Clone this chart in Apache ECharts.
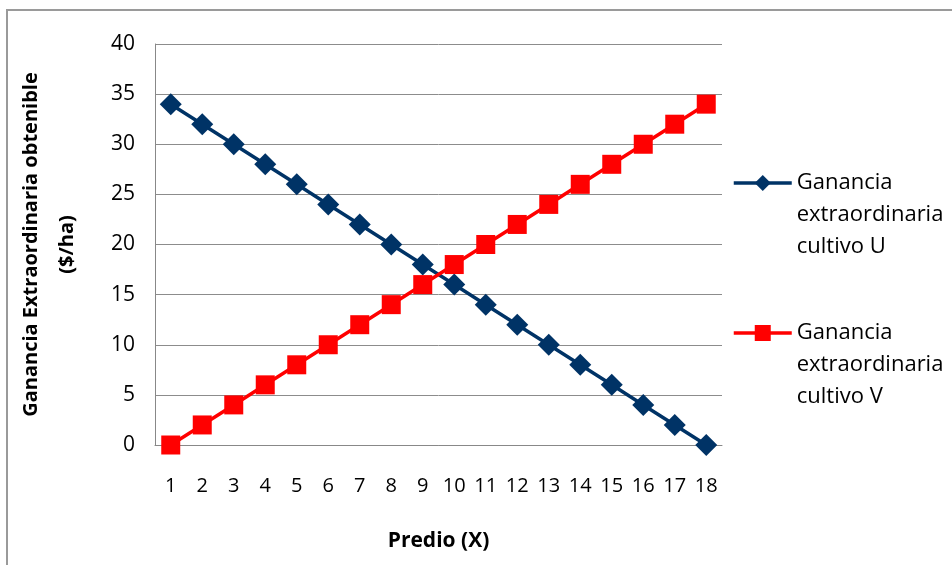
<!DOCTYPE html>
<html>
<head>
<meta charset="utf-8">
<script src="https://cdn.jsdelivr.net/npm/echarts@6/dist/echarts.min.js"></script>
<style>
  html, body { margin: 0; padding: 0; background: #fff; }
  #chart { width: 952px; height: 565px; }
</style>
</head>
<body>
<div id="chart"></div>
<script>
var predios = ['1','2','3','4','5','6','7','8','9','10','11','12','13','14','15','16','17','18'];
var cultivoU = [34, 32, 30, 28, 26, 24, 22, 20, 18, 16, 14, 12, 10, 8, 6, 4, 2, 0];
var cultivoV = [0, 2, 4, 6, 8, 10, 12, 14, 16, 18, 20, 22, 24, 26, 28, 30, 32, 34];
var nameU = 'Ganancia\nextraordinaria\ncultivo U';
var nameV = 'Ganancia\nextraordinaria\ncultivo V';

var font = 'Open Sans';
var chart = echarts.init(document.getElementById('chart'));

// legend text is centred on the icon, two blank lines on top put the first line level with it
var legendText = { fontFamily: font, fontSize: 22, lineHeight: 32, color: '#000' };
function legendLabel(n) { return '\n\n' + n; }

var option = {
  animation: false,
  backgroundColor: '#fff',
  graphic: [{
    type: 'rect',
    shape: { x: 7, y: 10, width: 980, height: 600 },
    style: { fill: 'none', stroke: '#9a9a9a', lineWidth: 2 },
    silent: true
  }],
  grid: { left: 155, right: 230, top: 44, bottom: 120, outerBoundsMode: 'none' },
  legend: [
    { data: [nameU], orient: 'vertical', left: 727, top: 98, itemWidth: 58, itemHeight: 20,
      formatter: legendLabel, textStyle: legendText, lineStyle: { width: 3.5 } },
    { data: [nameV], orient: 'vertical', left: 727, top: 248, itemWidth: 58, itemHeight: 20,
      formatter: legendLabel, textStyle: legendText, lineStyle: { width: 3.5 } }
  ],
  xAxis: {
    type: 'category',
    data: predios,
    name: 'Predio (X)',
    nameLocation: 'middle',
    nameGap: 86,
    nameTextStyle: { fontFamily: font, fontSize: 21, fontWeight: 'bold', color: '#000' },
    axisLine: { lineStyle: { color: '#888', width: 1 } },
    axisTick: { show: false },
    axisLabel: { fontFamily: font, fontSize: 20, color: '#000', margin: 31, interval: 0 }
  },
  yAxis: {
    type: 'value',
    min: 0,
    max: 40,
    interval: 5,
    name: 'Ganancia Extraordinaria obtenible\n($/ha)',
    nameLocation: 'middle',
    nameRotate: 90,
    nameGap: 70,
    nameTextStyle: { fontFamily: font, fontSize: 20, fontWeight: 'bold', color: '#000', lineHeight: 36 },
    axisLine: { show: true, lineStyle: { color: '#888', width: 1 } },
    axisTick: { show: false },
    axisLabel: { fontFamily: font, fontSize: 21, color: '#000', margin: 20 },
    splitLine: { lineStyle: { color: '#8c8c8c', width: 1 } }
  },
  series: [
    {
      name: nameU,
      type: 'line',
      data: cultivoU,
      symbol: 'diamond',
      symbolSize: 22,
      lineStyle: { color: '#003366', width: 3.5 },
      itemStyle: { color: '#003366' }
    },
    {
      name: nameV,
      type: 'line',
      data: cultivoV,
      symbol: 'rect',
      symbolSize: 19,
      lineStyle: { color: '#ff0000', width: 3.5 },
      itemStyle: { color: '#ff0000' }
    }
  ]
};

chart.setOption(option);
</script>
</body>
</html>
